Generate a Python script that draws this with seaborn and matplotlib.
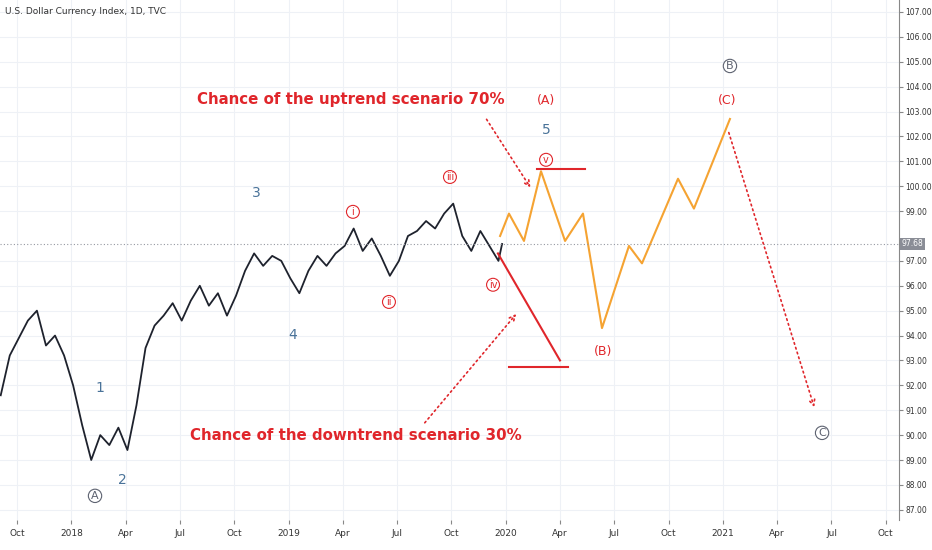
import matplotlib
matplotlib.use("Agg")
import matplotlib.pyplot as plt
import seaborn as sns
import pandas as pd
import numpy as np

# price history: months since Oct 2017, DXY close
price_month = [-0.9,-0.4,0.1,0.6,1.1,1.6,2.1,2.6,3.1,3.6,4.1,4.6,5.1,5.6,6.1,6.6,7.1,7.6,8.1,8.6,
               9.1,9.6,10.1,10.6,11.1,11.6,12.1,12.6,13.1,13.6,14.1,14.6,15.1,15.6,16.1,16.6,17.1,17.6,
               18.1,18.6,19.1,19.6,20.1,20.6,21.1,21.6,22.1,22.6,23.1,23.6,24.1,24.6,25.1,25.6,26.1,26.6,26.8]
price_value = [91.6,93.2,93.9,94.6,95.0,93.6,94.0,93.2,92.0,90.4,89.0,90.0,89.6,90.3,89.4,91.2,93.5,94.4,94.8,95.3,
               94.6,95.4,96.0,95.2,95.7,94.8,95.6,96.6,97.3,96.8,97.2,97.0,96.3,95.7,96.6,97.2,96.8,97.3,
               97.6,98.3,97.4,97.9,97.2,96.4,97.0,98.0,98.2,98.6,98.3,98.9,99.3,98.0,97.4,98.2,97.6,97.0,97.68]
up_month = [26.69,27.18,28.01,28.95,30.28,31.27,32.32,33.81,34.53,36.52,37.40,39.39]
up_value = [98.0,98.9,97.8,100.6,97.8,98.9,94.3,97.6,96.9,100.3,99.1,102.7]
down_month = [26.57,30.0]
down_value = [97.3,93.0]
tick_months = list(range(0,49,3))
tick_labels = ["Oct","2018","Apr","Jul","Oct","2019","Apr","Jul","Oct","2020","Apr","Jul","Oct","2021","Apr","Jul","Oct"]
last_price = 97.68

RED = "#e0262b"; ORANGE = "#f5a332"; BLUE = "#4a7399"; GRAY = "#5d6270"

fig = plt.figure(figsize=(9.32,5.5), dpi=100)
ax = fig.add_axes([0, 0.055, 899/932, 0.945])
sns.lineplot(x=price_month, y=price_value, ax=ax, color="#1e222d", lw=1.3)
sns.lineplot(x=up_month, y=up_value, ax=ax, color=ORANGE, lw=1.5)
sns.lineplot(x=down_month, y=down_value, ax=ax, color=RED, lw=1.5)
ax.plot([28.73,31.38],[100.7,100.7], color=RED, lw=1.5)
ax.plot([27.18,30.44],[92.75,92.75], color=RED, lw=1.5)
ax.axhline(last_price, color="#9598a1", lw=0.8, ls=(0,(1,2)))

for (x0,y0,x1,y1) in [(25.86,102.78,28.45,99.85),(22.43,90.41,27.68,94.95),(39.28,102.26,44.09,91.02)]:
    ax.annotate("", xy=(x1,y1), xytext=(x0,y0),
                arrowprops=dict(arrowstyle="->", color=RED, ls=(0,(1,2)), lw=1.2))

ax.set_xlim(-0.94, 48.73)
ax.set_ylim(86.6, 107.48)
ax.yaxis.tick_right()
ticks = [v for v in range(87,108) if v != 98]
ax.set_yticks(ticks)
ax.set_yticklabels([f"{v:.2f}" for v in ticks], fontsize=5.5, color="#333")
ax.set_xticks(tick_months)
ax.set_xticklabels(tick_labels, fontsize=6.5, color="#333")
ax.grid(color="#eef1f6", lw=0.8)
for s in ["top","left","bottom"]:
    ax.spines[s].set_visible(False)
ax.spines["right"].set_color("#888")
ax.tick_params(axis="y", length=3, pad=1.5, color="#888")
ax.tick_params(axis="x", length=3, color="#888")
ax.text(1.003, last_price, f"{last_price:.2f}", transform=ax.get_yaxis_transform(), fontsize=5.5, color="white",
        va="center", ha="left", bbox=dict(facecolor="#8a8d96", edgecolor="none", pad=1.2))

def t(x,y,s,c,fs=10,circ=False,bold=False):
    kw = dict(color=c, fontsize=fs, ha="center", va="center", fontweight="bold" if bold else "normal")
    if circ:
        kw["bbox"] = dict(boxstyle="circle,pad=0.15", fc="white", ec=c, lw=0.8)
    ax.text(x,y,s,**kw)

t(18.45,103.47,"Chance of the uptrend scenario 70%",RED,10.8,bold=True)
t(18.73,89.97,"Chance of the downtrend scenario 30%",RED,10.8,bold=True)
t(29.23,103.43,"(A)",RED,9); t(29.23,102.26,"5",BLUE,10)
t(39.23,103.43,"(C)",RED,9); t(32.38,93.35,"(B)",RED,9)
t(39.39,104.83,"B",GRAY,8,True); t(44.48,90.09,"C",GRAY,8,True); t(4.31,87.56,"A",GRAY,8,True)
t(4.59,91.9,"1",BLUE); t(5.8,88.2,"2",BLUE); t(13.2,99.73,"3",BLUE); t(15.25,94.03,"4",BLUE)
t(18.56,98.97,"i",RED,7,True); t(20.55,95.35,"ii",RED,7,True); t(23.92,100.37,"iii",RED,7,True)
t(29.23,101.06,"v",RED,7,True); t(26.3,96.04,"iv",RED,7,True)
fig.text(5/932, 1-12/550, "U.S. Dollar Currency Index, 1D, TVC", fontsize=6.5, color="#333", va="center")
fig.savefig("out.png", dpi=100)
